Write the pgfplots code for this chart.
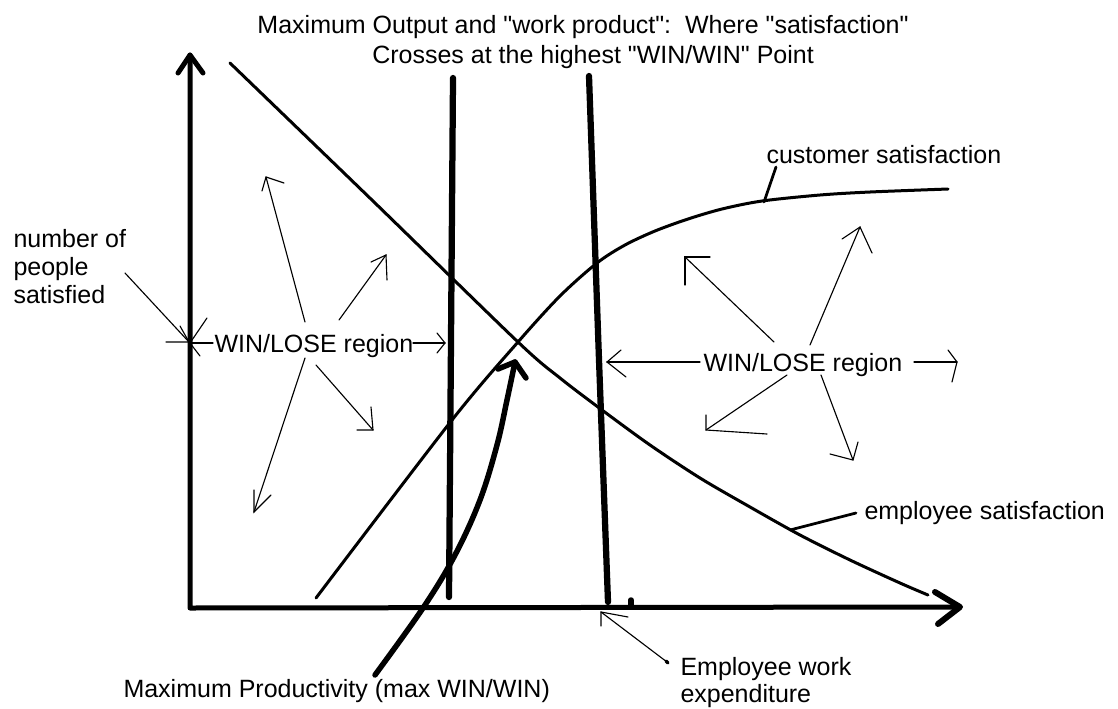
\documentclass[border=0pt]{standalone}
\usepackage{pgfplots}
\pgfplotsset{compat=1.18}
\usepackage{fontspec}
\setmainfont{Liberation Sans}[Ligatures=TeXOff]
\newcommand{\q}{{\char34}}
\begin{document}
\begin{tikzpicture}[
  txt/.style={inner sep=0pt, font=\fontsize{10}{12}\selectfont, text=black},
]
\begin{axis}[
  scale only axis, width=447.2pt, height=283.6pt,
  xmin=0, xmax=1118, ymin=0, ymax=709, y dir=reverse,
  hide axis, clip=false,
  axisline/.style={black, line width=2pt, line cap=round, line join=round},
  bar/.style={black, line width=2.5pt, line cap=round},
  curve/.style={black, line width=1.2pt, line cap=round, smooth, tension=0.5},
  thin/.style={black, line width=0.45pt, line cap=round, line join=miter},
  lead/.style={black, line width=1.1pt, line cap=round},
]
\path (axis cs:0,0) rectangle (axis cs:1118,709);

% axes
\addplot[axisline] coordinates {(190,55) (190,608) (960,607)};
\addplot[axisline] coordinates {(178,73) (190,55) (203,73)};
\addplot[axisline, line width=2.4pt] coordinates {(935,592) (960,607) (938,624)};
\addplot[axisline, line width=2.2pt] coordinates {(631,600) (631,607)};

% vertical bars
\addplot[bar] coordinates {(453,78) (451,340) (449,597)};
\addplot[bar] coordinates {(589,76) (599,360) (608,602)};

% employee satisfaction
\addplot[curve] coordinates {(230,63) (374,202) (518,342) (560,378) (602,410) (650,445) (700,478) (750,507) (800,535) (850,560) (900,583) (928,595)};
% customer satisfaction
\addplot[curve] coordinates {(316,598) (452,420) (518,342) (560,296) (597,263) (625,245) (655,231) (688,219) (722,209) (762,201) (820,195) (870,192) (948,189)};

% curved thick arrow (max productivity)
\addplot[black, line width=2.2pt, line cap=round, smooth, tension=0.6] coordinates {(375,675) (423,608) (455,555) (480,500) (497,445) (507,400) (515,362)};
\addplot[black, line width=2.2pt, line cap=round, line join=round] coordinates {(498,369) (515,362) (526,378)};

% left region arrows
\addplot[thin] coordinates {(305,322) (266,177)};
\addplot[thin] coordinates {(262,191) (266,177) (284,183)};
\addplot[thin] coordinates {(339,320) (386,255)};
\addplot[thin] coordinates {(371,262) (386,255) (387,280)};
\addplot[thin] coordinates {(305,358) (254,512)};
\addplot[thin] coordinates {(254,490) (254,512) (271,495)};
\addplot[thin] coordinates {(316,365) (373,430)};
\addplot[thin] coordinates {(371,407) (373,430) (357,430)};
\addplot[thin] coordinates {(213,343) (190,343)};
\addplot[thin] coordinates {(207,318) (190,343) (200,356)};
\addplot[thin] coordinates {(413,343) (445,343)};
\addplot[thin] coordinates {(437,333) (445,343) (437,353)};
\addplot[thin] coordinates {(125,273) (189,342)};
\addplot[thin] coordinates {(166,342) (189,342) (180,326)};

% right region arrows
\addplot[thin] coordinates {(774,342) (685,257)};
\addplot[thin] coordinates {(685,285) (685,257) (710,257)};
\addplot[thin] coordinates {(810,345) (860,227)};
\addplot[thin] coordinates {(842,239) (860,227) (872,253)};
\addplot[thin] coordinates {(787,375) (706,430)};
\addplot[thin] coordinates {(706,415) (706,430) (767,434)};
\addplot[thin] coordinates {(821,375) (853,460)};
\addplot[thin] coordinates {(858,442) (853,460) (830,454)};
\addplot[thin] coordinates {(700,362) (607,362)};
\addplot[thin] coordinates {(621,350) (607,362) (626,377)};
\addplot[thin] coordinates {(914,362) (957,362)};
\addplot[thin] coordinates {(948,350) (957,362) (952,382)};

% employee work expenditure arrow
\addplot[thin] coordinates {(667,662) (601,612)};
\addplot[thin] coordinates {(601,626) (601,612) (628,617)};
\addplot[black, line width=1.4pt, line cap=round] coordinates {(666,661) (668,663)};

% leader lines
\addplot[lead] coordinates {(776,167) (764,202)};
\addplot[lead] coordinates {(856,513) (790,530)};

% texts
\node[txt, anchor=base] at (axis cs:583,33) {Maximum Output and \q work product\q:\ \ Where \q satisfaction\q};
\node[txt, anchor=base] at (axis cs:593,63) {Crosses at the highest \q WIN/WIN\q\ Point};
\node[txt, anchor=base west] at (axis cs:13,247) {number of};
\node[txt, anchor=base west] at (axis cs:13,275) {people};
\node[txt, anchor=base west] at (axis cs:13,303) {satisfied};
\node[txt, anchor=base west] at (axis cs:214,352) {WIN/LOSE region};
\node[txt, anchor=base west] at (axis cs:703,371) {WIN/LOSE region};
\node[txt, anchor=base west] at (axis cs:766,163) {customer satisfaction};
\node[txt, anchor=base west] at (axis cs:864,519) {employee satisfaction};
\node[txt, anchor=base west] at (axis cs:680,675) {Employee work};
\node[txt, anchor=base west] at (axis cs:680,702) {expenditure};
\node[txt, anchor=base west] at (axis cs:123,697) {Maximum Productivity (max WIN/WIN)};
\end{axis}
\end{tikzpicture}
\end{document}
